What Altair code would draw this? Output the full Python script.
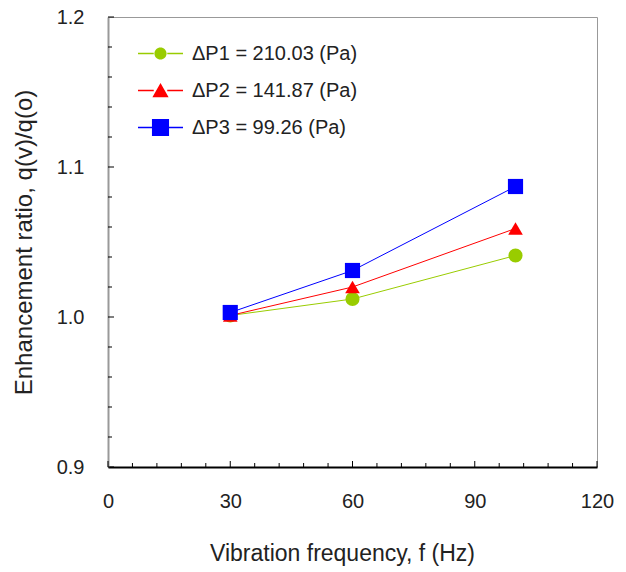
import altair as alt
import pandas as pd

# Measured enhancement ratios at three vibration frequencies
freq = [30, 60, 100]
series = ["\u0394P1 = 210.03 (Pa)", "\u0394P2 = 141.87 (Pa)", "\u0394P3 = 99.26 (Pa)"]
ratio_p1 = [1.001, 1.012, 1.041]
ratio_p2 = [1.001, 1.020, 1.059]
ratio_p3 = [1.003, 1.031, 1.087]

x_major = [0, 30, 60, 90, 120]
x_minor = [6, 12, 18, 24, 36, 42, 48, 54, 66, 72, 78, 84, 96, 102, 108, 114]
y_major = [0.9, 1.0, 1.1, 1.2]
y_minor = [0.92, 0.94, 0.96, 0.98, 1.02, 1.04, 1.06, 1.08, 1.12, 1.14, 1.16, 1.18]

colors = ["#99CC00", "#FF0000", "#0000FF"]
shapes = ["circle", "triangle-up", "square"]

# Legend glyphs: a short line with the marker in the middle (unit box -1..1)
line_l = "M-1,-0.03H-0.3V0.03H-1Z"
line_r = "M0.3,-0.03H1V0.03H0.3Z"
legend_paths = [
    line_l + line_r + "M-0.27,0A0.27,0.27 0 1,0 0.27,0A0.27,0.27 0 1,0 -0.27,0Z",
    line_l + line_r + "M0,-0.33L0.36,0.3L-0.36,0.3Z",
    line_l + line_r + "M-0.38,-0.38H0.38V0.38H-0.38Z",
]

rows = []
for name, vals in zip(series, [ratio_p1, ratio_p2, ratio_p3]):
    for f, v in zip(freq, vals):
        rows.append({"freq": f, "ratio": v, "series": name})
df = pd.DataFrame(rows)

FONT = "Liberation Sans"
TXT = "#222222"

x_scale = alt.Scale(domain=[0, 120], nice=False, zero=False)
y_scale = alt.Scale(domain=[0.9, 1.2], nice=False, zero=False)

x_axis = alt.Axis(values=x_major, title="Vibration frequency, f (Hz)",
                  grid=False, ticks=False, domainColor="#000000", domainWidth=2,
                  labelFontSize=20, titleFontSize=23, labelPadding=24,
                  titlePadding=31, titleX=234, labelFont=FONT, titleFont=FONT,
                  labelColor=TXT, titleColor=TXT, titleFontWeight="normal",
                  labelFlush=False)
y_axis = alt.Axis(values=y_major, format=".1f", title="Enhancement ratio, q(v)/q(o)",
                  grid=False, ticks=False, domainColor="#999999", domainWidth=2,
                  labelFontSize=20, titleFontSize=24, labelPadding=24,
                  titlePadding=20, labelFont=FONT, titleFont=FONT,
                  labelColor=TXT, titleColor=TXT, titleFontWeight="normal",
                  labelFlush=False)

def xq(field):
    return alt.X(field, scale=x_scale, axis=x_axis)

def yq(field):
    return alt.Y(field, scale=y_scale, axis=y_axis)

color_plain = alt.Color("series:N", scale=alt.Scale(domain=series, range=colors), legend=None)

base = alt.Chart(df)

lines = base.mark_line(strokeWidth=1).encode(
    x=xq("freq:Q"), y=yq("ratio:Q"), color=color_plain, detail="series:N"
)

points = base.mark_point(filled=True, opacity=1).encode(
    x=xq("freq:Q"), y=yq("ratio:Q"),
    color=color_plain,
    shape=alt.Shape("series:N", scale=alt.Scale(domain=series, range=shapes), legend=None),
    size=alt.Size("series:N", scale=alt.Scale(domain=series, range=[200, 230, 320]), legend=None),
)

legend_kw = dict(
    orient="none", legendX=30, legendY=14, title=None, padding=0,
    symbolSize=2025, symbolOpacity=1, symbolStrokeWidth=0,
    labelFontSize=20, labelFont=FONT, labelColor=TXT, labelOffset=9,
    rowPadding=4, labelLimit=400,
)

legend_layer = base.mark_point(filled=True, opacity=0).encode(
    x=xq("freq:Q"), y=yq("ratio:Q"),
    color=alt.Color("series:N", scale=alt.Scale(domain=series, range=colors),
                    sort=series, legend=alt.Legend(**legend_kw)),
    shape=alt.Shape("series:N", scale=alt.Scale(domain=series, range=legend_paths),
                    sort=series, legend=alt.Legend(**legend_kw)),
)

# Inward-pointing major and minor ticks on both axes
def y_ticks(values, length):
    return alt.Chart(pd.DataFrame({"v": values})).mark_rule(color="#000000", strokeWidth=1).encode(
        y=yq("v:Q"), x=alt.value(0), x2=alt.value(length)
    )

def x_ticks(values, length):
    return alt.Chart(pd.DataFrame({"v": values})).mark_rule(color="#000000", strokeWidth=1).encode(
        x=xq("v:Q"), y=alt.value(450), y2=alt.value(450 - length)
    )

chart = alt.layer(
    lines, points, legend_layer,
    y_ticks(y_major, 6), y_ticks(y_minor, 4),
    x_ticks(x_major, 6), x_ticks(x_minor, 4),
).resolve_scale(
    color="independent", shape="independent", size="independent"
).properties(
    width=489, height=450,
    padding={"left": 108, "top": 17, "right": 29, "bottom": 105},
    autosize=alt.AutoSizeParams(type="none"),
    background="#ffffff",
).configure_view(stroke="#999999", strokeWidth=1)

chart.save("out.html", embed_options={"renderer": "svg", "actions": False})
